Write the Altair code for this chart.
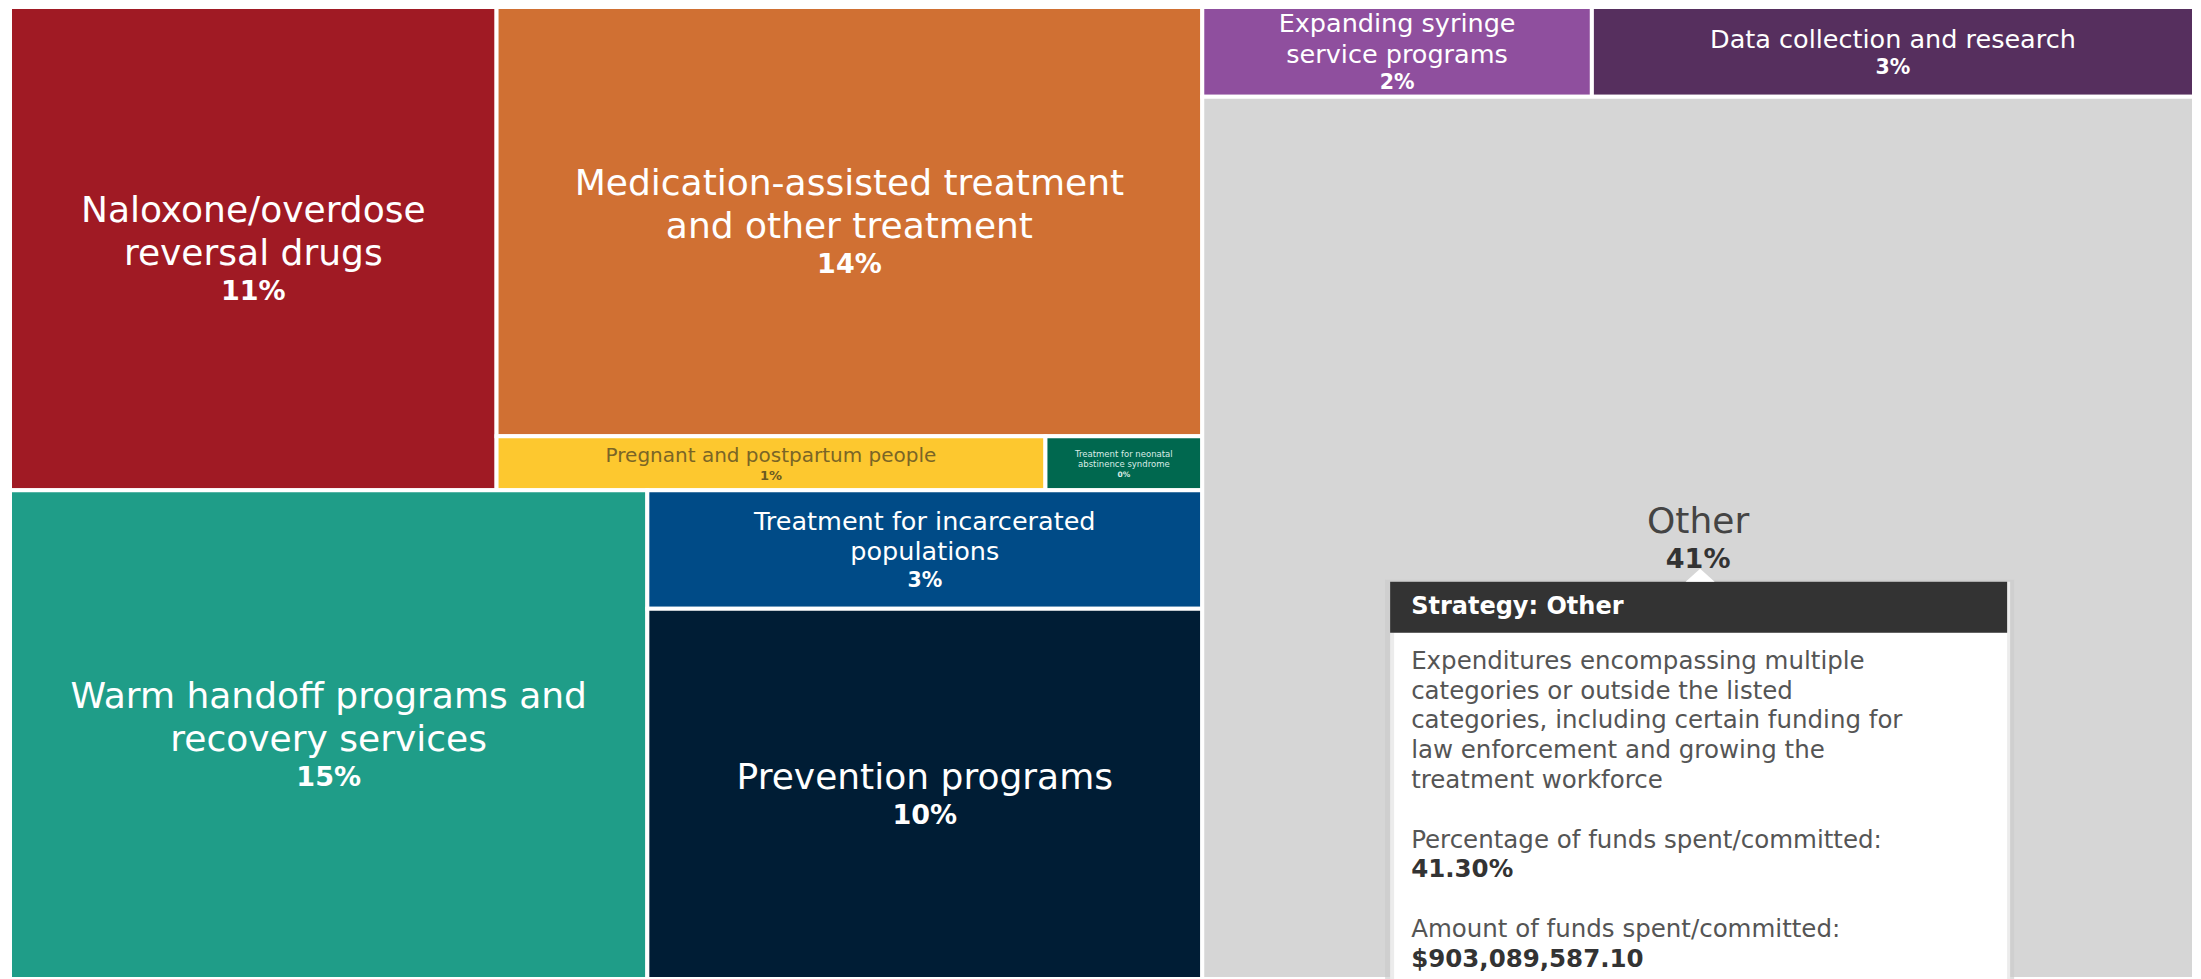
import altair as alt
import pandas as pd

# ---------------- data ----------------
names = ["Naloxone", "Medication", "Pregnant", "Neonatal", "Warm",
         "Incarcerated", "Prevention", "Syringe", "Data", "Other"]
shares = [11.1, 14.3, 1.4, 0.4, 14.7, 3.1, 9.7, 1.65, 2.55, 41.3]
label_lines = [
    ["Naloxone/overdose", "reversal drugs"],
    ["Medication-assisted treatment", "and other treatment"],
    ["Pregnant and postpartum people"],
    ["Treatment for neonatal", "abstinence syndrome"],
    ["Warm handoff programs and", "recovery services"],
    ["Treatment for incarcerated", "populations"],
    ["Prevention programs"],
    ["Expanding syringe", "service programs"],
    ["Data collection and research"],
    ["Other"],
]
fill_colors = ["#a01a24", "#d07033", "#fdc82f", "#00684f", "#1f9d88",
               "#004b87", "#001d35", "#8f4f9e", "#562f5e", "#d6d6d6"]
text_colors = ["#ffffff", "#ffffff", "#7a6526", "#d9ece6", "#ffffff",
               "#ffffff", "#ffffff", "#ffffff", "#ffffff", "#444444"]
pct_colors = ["#ffffff", "#ffffff", "#6b5a22", "#d9ece6", "#ffffff",
              "#ffffff", "#ffffff", "#ffffff", "#ffffff", "#333333"]
size_class = ["big", "big", "small", "tiny", "big",
              "medium", "big", "medium", "medium", "big"]

# nesting of the treemap (split direction, children)
tree = ("x", [
    ("y", [
        ("x", ["Naloxone", ("y", ["Medication", ("x", ["Pregnant", "Neonatal"])])]),
        ("x", ["Warm", ("y", ["Incarcerated", "Prevention"])]),
    ]),
    ("y", [("x", ["Syringe", "Data"]), "Other"]),
])

tooltip_title = "Strategy: Other"
tooltip_lines = [
    "Expenditures encompassing multiple",
    "categories or outside the listed",
    "categories, including certain funding for",
    "law enforcement and growing the",
    "treatment workforce",
    "",
    "Percentage of funds spent/committed:",
    "41.30%",
    "",
    "Amount of funds spent/committed:",
    "$903,089,587.10",
]
tooltip_bold = [False, False, False, False, False, False, False, True, False, False, True]

# ---------------- layout ----------------
W, H = 2184, 972
value_of = dict(zip(names, shares))


def total(node):
    if isinstance(node, str):
        return value_of[node]
    return sum(total(c) for c in node[1])


def layout(node, x0, y0, x1, y1, out):
    if isinstance(node, str):
        out[node] = (x0, y0, x1, y1)
        return
    direction, children = node
    tots = [total(c) for c in children]
    s = sum(tots)
    pos = x0 if direction == "x" else y0
    span = (x1 - x0) if direction == "x" else (y1 - y0)
    for c, t in zip(children, tots):
        ext = span * t / s
        if direction == "x":
            layout(c, pos, y0, pos + ext, y1, out)
        else:
            layout(c, x0, pos, x1, pos + ext, out)
        pos += ext


rects = {}
layout(tree, 0, 0, W, H, rects)

styles = {  # font size, line height, pct size
    "big": (36, 42.5, 27),
    "medium": (25.5, 30.5, 20.5),
    "small": (20, 23.5, 13),
    "tiny": (8.5, 10.5, 7.5),
}

rect_rows, text_rows = [], []
for i, n in enumerate(names):
    x0, y0, x1, y1 = rects[n]
    rect_rows.append(dict(name=n, x0=x0, x1=x1, y0=y0, y1=y1, fill=fill_colors[i]))
    fs, lh, ps = styles[size_class[i]]
    cx, cy = (x0 + x1) / 2, (y0 + y1) / 2
    lines = label_lines[i]
    pbox = ps * 1.2
    block = len(lines) * lh + pbox
    top = cy - block / 2
    for k, ln in enumerate(lines):
        text_rows.append(dict(x=cx, y=top + lh * (k + 0.5), t=ln, size=fs,
                              color=text_colors[i], bold=False))
    text_rows.append(dict(x=cx, y=top + len(lines) * lh + pbox / 2 + 1,
                          t=f"{round(shares[i])}%", size=ps,
                          color=pct_colors[i], bold=True))

rect_df = pd.DataFrame(rect_rows)
text_df = pd.DataFrame(text_rows)

# tooltip anchored on the "Other" tile
ox0, oy0, ox1, oy1 = rects["Other"]
ocx, ocy = (ox0 + ox1) / 2, (oy0 + oy1) / 2
tt_top = ocy + 44
tt_left, tt_right = ocx - 308, ocx + 309
hdr_bottom = tt_top + 51

tt_rects = pd.DataFrame([
    dict(x0=tt_left - 5, x1=tt_right + 7, y0=tt_top - 2, y1=H, fill="#c9c9c9", op=0.6),
    dict(x0=tt_left, x1=tt_right + 3, y0=tt_top, y1=H, fill="#ececec", op=1.0),
    dict(x0=tt_left + 4, x1=tt_right, y0=hdr_bottom, y1=H, fill="#ffffff", op=1.0),
    dict(x0=tt_left, x1=tt_right, y0=tt_top, y1=hdr_bottom, fill="#333333", op=1.0),
])
tt_text = pd.DataFrame([
    dict(x=tt_left + 21, y=tt_top + 80 + 29.8 * k, t=s,
         color="#333333" if b else "#555555", bold=b)
    for k, (s, b) in enumerate(zip(tooltip_lines, tooltip_bold)) if s
])
tt_head = pd.DataFrame([dict(x=tt_left + 21, y=(tt_top + hdr_bottom) / 2, t=tooltip_title)])
tt_arrow = pd.DataFrame([dict(x=ocx + 2, y=tt_top)])

# ---------------- chart ----------------
xs = alt.Scale(domain=[0, W], nice=False, zero=False)
ys = alt.Scale(domain=[0, H], nice=False, zero=False, reverse=True)
FONT = "DejaVu Sans"

tiles = alt.Chart(rect_df).mark_rect(stroke="white", strokeWidth=4).encode(
    x=alt.X("x0:Q", scale=xs, axis=None),
    x2="x1:Q",
    y=alt.Y("y0:Q", scale=ys, axis=None),
    y2="y1:Q",
    fill=alt.Fill("fill:N", scale=None),
)

labels_regular = alt.Chart(text_df).transform_filter("!datum.bold").mark_text(
    font=FONT, align="center", baseline="middle"
).encode(
    x=alt.X("x:Q", scale=xs, axis=None),
    y=alt.Y("y:Q", scale=ys, axis=None),
    text="t:N",
    size=alt.Size("size:Q", scale=None, legend=None),
    color=alt.Color("color:N", scale=None),
)
labels_bold = alt.Chart(text_df).transform_filter("datum.bold").mark_text(
    font=FONT, fontWeight="bold", align="center", baseline="middle"
).encode(
    x=alt.X("x:Q", scale=xs, axis=None),
    y=alt.Y("y:Q", scale=ys, axis=None),
    text="t:N",
    size=alt.Size("size:Q", scale=None, legend=None),
    color=alt.Color("color:N", scale=None),
)

tip_boxes = alt.Chart(tt_rects).mark_rect().encode(
    x=alt.X("x0:Q", scale=xs, axis=None),
    x2="x1:Q",
    y=alt.Y("y0:Q", scale=ys, axis=None),
    y2="y1:Q",
    fill=alt.Fill("fill:N", scale=None),
    opacity=alt.Opacity("op:Q", scale=None, legend=None),
)
tip_arrow = alt.Chart(tt_arrow).mark_point(
    shape="M-1,0L0,-0.9L1,0Z", filled=True, fill="#ffffff", opacity=1,
    size=841, strokeWidth=0
).encode(
    x=alt.X("x:Q", scale=xs, axis=None),
    y=alt.Y("y:Q", scale=ys, axis=None),
)
tip_head = alt.Chart(tt_head).mark_text(
    font=FONT, fontWeight="bold", fontSize=24, align="left", baseline="middle", color="#ffffff"
).encode(
    x=alt.X("x:Q", scale=xs, axis=None),
    y=alt.Y("y:Q", scale=ys, axis=None),
    text="t:N",
)
tip_reg = alt.Chart(tt_text).transform_filter("!datum.bold").mark_text(
    font=FONT, fontSize=24.5, align="left", baseline="middle"
).encode(
    x=alt.X("x:Q", scale=xs, axis=None),
    y=alt.Y("y:Q", scale=ys, axis=None),
    text="t:N",
    color=alt.Color("color:N", scale=None),
)
tip_bold = alt.Chart(tt_text).transform_filter("datum.bold").mark_text(
    font=FONT, fontWeight="bold", fontSize=24.5, align="left", baseline="middle"
).encode(
    x=alt.X("x:Q", scale=xs, axis=None),
    y=alt.Y("y:Q", scale=ys, axis=None),
    text="t:N",
    color=alt.Color("color:N", scale=None),
)

chart = alt.layer(
    tiles, labels_regular, labels_bold, tip_boxes, tip_arrow, tip_head, tip_reg, tip_bold
).properties(
    width=W, height=H, autosize="none",
    padding={"left": 10, "top": 7, "right": 7, "bottom": 0},
    background="white",
).configure_view(stroke=None)

chart.save("out.html", embed_options={"renderer": "svg", "actions": False})
